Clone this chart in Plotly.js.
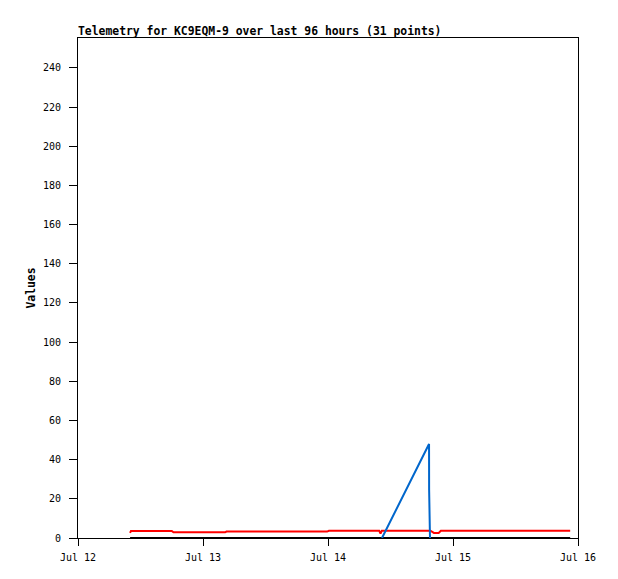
<!DOCTYPE html>
<html>
<head>
<meta charset="utf-8">
<script src="https://cdn.plot.ly/plotly-3.0.1.min.js"></script>
<style>html,body{margin:0;padding:0;background:#fff;}#chart{width:618px;height:579px;}</style>
</head>
<body>
<div id="chart"></div>
<script>
// Series 1 (red)
const redTimes = [
  '2024-07-12 10:00','2024-07-12 10:10','2024-07-12 18:00','2024-07-12 18:20',
  '2024-07-13 04:15','2024-07-13 04:30','2024-07-13 23:50','2024-07-14 00:10',
  '2024-07-14 09:50','2024-07-14 10:05','2024-07-14 10:20','2024-07-14 19:40',
  '2024-07-14 20:20','2024-07-14 21:15','2024-07-14 21:40','2024-07-15 22:30'
];
const redValues = [2.6, 3.6, 3.6, 2.9, 2.9, 3.3, 3.3, 3.7, 3.7, 2.2, 3.7, 3.7, 2.6, 2.6, 3.7, 3.7];

// Series 2 (blue)
const blueTimes = ['2024-07-14 10:22','2024-07-14 19:24','2024-07-14 19:25','2024-07-14 19:35'];
const blueValues = [0, 48, 24.5, 0];

// Series 3 (black)
const blackTimes = ['2024-07-12 10:00','2024-07-15 22:30'];
const blackValues = [0, 0];

const xRange = ['2024-07-12 00:00','2024-07-16 00:00'];
const yRange = [0, 255.3];
const titleText = 'Telemetry for KC9EQM-9 over last 96 hours (31 points)';
const yTitle = 'Values';

const mono = 'DejaVu Sans Mono, Liberation Mono, monospace';

const traces = [
  {x: blackTimes, y: blackValues, mode: 'lines', line: {color: '#000000', width: 2}, hoverinfo: 'skip'},
  {x: redTimes, y: redValues, mode: 'lines', line: {color: '#ff0000', width: 2}, hoverinfo: 'skip'},
  {x: blueTimes, y: blueValues, mode: 'lines', line: {color: '#0066cc', width: 2}, hoverinfo: 'skip'}
];

const layout = {
  width: 618, height: 579,
  margin: {l: 78, r: 40, t: 38, b: 41},
  paper_bgcolor: '#ffffff', plot_bgcolor: '#ffffff',
  showlegend: false,
  font: {family: mono, size: 10, color: '#000'},
  title: {
    text: '<b>' + titleText + '</b>',
    font: {family: mono, size: 11.4, color: '#000'},
    xref: 'paper', x: 0, xanchor: 'left',
    yref: 'container', y: 1 - 31/579, yanchor: 'middle'
  },
  xaxis: {
    type: 'date', range: xRange, dtick: 86400000, tick0: '2024-07-12',
    tickformat: '%b %d', showgrid: false, zeroline: false,
    showline: true, linecolor: '#000', linewidth: 1, mirror: true,
    ticks: 'outside', ticklen: 7, tickcolor: '#000', tickwidth: 1,
    tickfont: {family: mono, size: 10, color: '#000'}, ticklabelstandoff: 3
  },
  yaxis: {
    range: yRange, dtick: 20, tick0: 0, showgrid: false, zeroline: false,
    showline: true, linecolor: '#000', linewidth: 1, mirror: true,
    ticks: 'outside', ticklen: 8, tickcolor: '#000', tickwidth: 1,
    tickfont: {family: mono, size: 10, color: '#000'}, ticklabelstandoff: 6,
    title: {text: '<b>' + yTitle + '</b>', font: {family: mono, size: 11.4, color: '#000'}, standoff: 4}
  }
};

Plotly.newPlot('chart', traces, layout, {staticPlot: true, displayModeBar: false});
</script>
</body>
</html>
